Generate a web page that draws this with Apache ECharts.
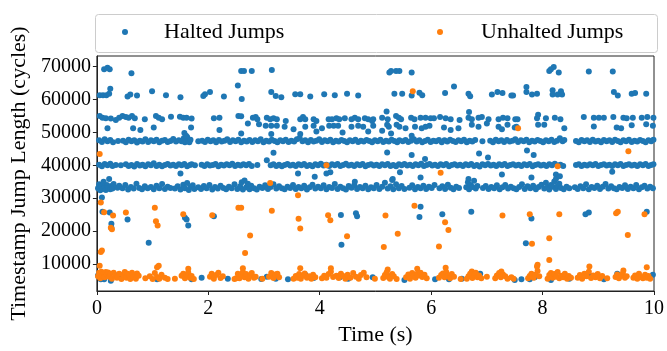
<!DOCTYPE html>
<html>
<head>
<meta charset="utf-8">
<script src="https://cdn.jsdelivr.net/npm/echarts@6/dist/echarts.min.js"></script>
<style>html,body{margin:0;padding:0;background:#fff}#c{width:667px;height:351px}</style>
</head>
<body>
<div id="c"></div>
<script>
// ---- data: [time (s), jump length (cycles)] ----
const xTicks = [0, 2, 4, 6, 8, 10];
const yTicks = [10000, 20000, 30000, 40000, 50000, 60000, 70000];

const haltedBand47 = [[0.04,47600],[0.09,47100],[0.14,47900],[0.19,47300],[0.24,47700],[0.29,47000],[0.38,47400],
[0.47,47500],[0.52,47000],[0.57,47800],[0.62,47300],[0.67,47600],[0.72,46900],[0.77,47500],[0.82,47200],[0.87,47900],[0.92,47100],[0.97,47600],[1.02,47300],[1.07,47800],[1.12,47000],[1.17,47500],[1.22,47700],[1.27,47100],[1.32,47400],[1.37,48000],[1.42,47200],[1.47,47600],[1.52,47300],[1.56,48200],[1.58,47000],[1.60,47700],[1.62,48600],[1.64,47400],[1.66,47000],[1.68,47800],[1.82,47300],
[1.89,47500],[1.94,47100],[1.99,47800],[2.04,47300],[2.09,47600],[2.14,47000],[2.19,47700],[2.24,47200],[2.29,47500],[2.34,47900],[2.39,47100],[2.44,47600],[2.49,47300],[2.54,47800],[2.59,47000],[2.64,47500],[2.69,47200],[2.74,47700],[2.79,47100],[2.84,47600],[2.89,47300],[2.94,47900],[2.99,47000],[3.04,47500],[3.09,47200],[3.14,47800],[3.19,47400],[3.24,47000],[3.29,47600],[3.34,47300],[3.39,47800],[3.44,47100],[3.49,47500],[3.54,47200],[3.59,47900],[3.64,48300],[3.69,47300],[3.74,47600],[3.79,47000],[3.84,47700],[3.89,47200],[3.94,47500],[3.99,47900],[4.04,47100],[4.09,47600],[4.14,47300],[4.19,47800],[4.24,47000],[4.29,47500],[4.34,47200],[4.39,47700],[4.44,47400],[4.49,47000],[4.54,47600],[4.59,47300],[4.64,47800],[4.69,47100],[4.74,47500],[4.79,47200],[4.84,47700],[4.89,47400],[4.94,47000],[4.99,47600],[5.04,47300],[5.09,47800],[5.14,47100],[5.19,47500],[5.24,47200],[5.29,47800],[5.34,47400],[5.39,47000],[5.43,47600],
[5.49,47300],[5.54,47700],[5.59,47100],[5.64,47500],[5.69,47900],[5.74,47200],[5.79,47600],[5.84,47000],[5.89,47400],[5.94,47800],[5.99,47100],[6.04,47500],[6.09,47300],[6.14,47700],[6.19,47000],[6.24,47600],[6.29,47200],[6.34,47800],[6.39,47400],[6.44,47100],[6.49,47600],[6.54,47300],[6.59,47800],[6.64,47000],[6.69,47500],[6.74,47200],[6.79,47700],[6.92,47300],
[7.06,47500],[7.11,47000],[7.16,47800],[7.21,47300],[7.26,47600],[7.31,47100],[7.36,47700],[7.41,47200],[7.46,47500],[7.51,47900],[7.56,47100],[7.61,47600],[7.66,47300],[7.71,47800],[7.76,47000],[7.81,47500],[7.86,47200],[7.91,47700],[7.96,47400],[8.01,47000],[8.06,47600],[8.11,47300],[8.16,47800],[8.21,47100],[8.26,47500],[8.31,48200],[8.36,47300],[8.39,47700],
[8.60,47400],[8.65,47000],[8.70,47700],[8.75,47300],[8.80,47600],[8.85,47100],[8.90,47800],[8.95,47200],[9.00,47500],[9.05,47000],[9.10,47700],[9.15,47300],[9.20,47600],[9.25,47100],[9.30,47800],[9.35,47400],[9.40,47000],[9.45,47600],[9.50,47300],[9.55,47800],[9.60,47100],[9.65,47500],[9.70,47200],[9.75,47700],[9.80,47400],[9.85,47000],[9.90,47600],[9.95,47300],[9.99,47800]];

const haltedBand40 = [[0.04,40200],[0.09,39700],[0.14,40400],[0.19,40000],[0.24,40500],[0.28,39800],[0.34,40100],[0.43,40000],
[0.52,40300],[0.57,39800],[0.62,40100],[0.67,39600],[0.72,40400],[0.77,39900],[0.82,40200],[0.87,39700],[0.92,40300],[0.97,40000],[1.02,40600],[1.07,39800],[1.12,40200],[1.17,39700],[1.22,40100],[1.27,40400],[1.32,39900],[1.37,40200],[1.42,39800],[1.47,40300],[1.52,40000],[1.57,40400],[1.62,39700],[1.67,40100],[1.70,40300],[1.76,40000],
[1.88,40200],[1.93,39800],[1.98,40300],[2.03,39900],[2.08,40100],[2.13,40400],[2.18,39700],[2.23,40200],[2.28,39900],[2.33,40300],[2.38,40000],[2.43,40500],[2.48,39800],[2.53,40200],[2.58,39900],[2.63,40300],[2.68,40000],[2.73,40400],[2.78,39800],[2.88,40100],
[3.12,40000],[3.17,40300],[3.22,39800],[3.27,40200],[3.32,39700],[3.37,40100],[3.42,40400],[3.47,39900],[3.52,40200],[3.57,39800],[3.62,40300],[3.67,40000],[3.72,40400],[3.77,39800],[3.82,40100],[3.87,39700],[3.92,40300],[3.97,40000],[4.02,40500],[4.07,39900],[4.12,40200],[4.17,39800],[4.22,40300],[4.27,40000],[4.32,40400],[4.37,39800],[4.42,40100],[4.47,40500],[4.52,39900],[4.57,40200],[4.62,39800],[4.67,40300],[4.72,40000],[4.77,40400],[4.82,39700],[4.87,40100],[4.92,40300],[4.97,39900],[5.02,40200],[5.07,39800],[5.12,40300],[5.17,40000],[5.22,40400],[5.27,39800],[5.32,40100],[5.37,39700],[5.42,40300],[5.47,40000],[5.52,40400],[5.57,39900],[5.62,40200],[5.67,39800],[5.72,40300],[5.77,40000],[5.82,40500],[5.87,39800],[5.92,40100],[5.97,40400],[6.02,39900],[6.07,40200],[6.12,39800],[6.17,40300],[6.22,40000],[6.27,40400],[6.32,39700],[6.37,40100],[6.42,40300],[6.47,39900],[6.52,40200],[6.57,39800],[6.62,40300],[6.67,40000],[6.72,40400],[6.77,39800],[6.82,40100],[6.87,39600],[6.92,40300],[6.97,40000],[7.02,40400],[7.07,39900],[7.12,40200],[7.17,39800],[7.22,40300],[7.27,40000],[7.32,40400],[7.37,39800],[7.42,40100],[7.47,40300],[7.52,39900],[7.57,40200],[7.62,39800],[7.67,40300],[7.72,40000],[7.77,40400],[7.82,39700],[7.87,40100],[7.92,40300],[7.97,39900],[8.02,40200],[8.07,39800],[8.12,40300],[8.17,40000],[8.22,40500],[8.27,39900],[8.32,40200],[8.37,39800],
[8.60,40100],[8.65,40300],[8.70,39800],[8.75,40200],[8.80,39900],[8.85,40300],[8.90,40000],[8.95,40400],[9.00,39800],[9.05,40100],[9.10,40300],[9.15,39900],[9.20,40200],[9.25,39800],[9.30,40300],[9.35,40000],[9.40,40400],[9.45,39800],[9.50,40100],[9.55,40300],[9.60,39900],[9.65,40200],[9.70,39800],[9.75,40300],[9.80,40000],[9.85,40400],[9.90,39800],[9.95,40100],[9.99,40300]];

const haltedBand33 = [[0.02,33000],[0.04,34200],[0.06,32400],[0.08,33600],[0.10,32800],[0.12,35000],[0.14,33300],[0.16,32500],[0.18,34000],[0.20,33100],[0.22,35800],[0.24,32700],[0.26,33700],[0.28,32900],[0.30,34300],[0.37,33200],[0.40,33800],
[0.46,33000],[0.51,34000],[0.56,32600],[0.61,33400],[0.66,32900],[0.71,34400],[0.76,33100],[0.81,32700],[0.86,33600],[0.91,33000],
[0.97,33400],[1.02,32700],[1.07,33800],[1.12,33000],[1.17,34300],[1.22,32800],[1.27,33500],[1.32,33100],
[1.40,32900],[1.45,33600],[1.50,32600],[1.55,34100],[1.58,33000],[1.62,34600],[1.65,32500],[1.68,33400],[1.72,33900],[1.75,32800],
[1.82,33300],[1.87,32800],[1.92,33700],[1.97,33000],[2.02,34000],[2.07,32600],[2.12,33400],[2.17,32900],[2.22,33800],[2.27,33100],[2.32,32700],[2.37,33500],[2.42,33000],[2.47,34200],[2.52,32800],[2.57,33600],[2.60,34800],[2.62,32600],[2.65,35400],[2.68,33300],[2.71,34400],[2.74,32700],[2.77,33800],[2.82,33000],[2.87,32600],[2.92,33500],[2.97,33100],[3.02,33900],[3.07,32800],[3.12,33400],[3.17,34200],[3.22,32900],[3.27,33600],[3.32,33000],[3.37,32700],[3.42,33500],[3.47,33100],[3.52,34000],[3.57,32800],[3.62,33400],[3.67,33000],[3.72,33800],[3.77,32600],[3.82,33300],[3.87,34100],[3.92,32900],[3.97,33500],[4.02,33000],[4.07,33900],[4.12,32700],[4.17,33400],[4.22,33100],[4.27,34300],[4.32,32800],[4.37,33500],[4.42,33000],[4.47,32600],[4.52,33700],[4.57,33200],[4.62,33900],[4.67,32800],[4.72,33400],[4.77,33000],[4.82,33800],[4.87,32700],[4.92,33300],[4.97,33000],[5.02,34000],[5.07,32800],[5.12,33500],[5.17,34700],[5.22,32900],[5.27,33600],[5.30,35500],[5.32,32700],[5.37,34200],[5.42,33000],[5.47,33700],[5.52,32800],
[5.61,33200],[5.66,33900],[5.71,32700],[5.76,33400],[5.81,33000],[5.86,33800],[5.91,32800],[5.96,33500],[6.01,33100],[6.06,34000],
[6.15,33000],[6.20,33600],[6.25,32800],[6.30,34100],[6.35,33200],[6.40,32700],[6.45,33500],[6.50,33100],
[6.63,33300],[6.66,34800],[6.68,32700],[6.71,34000],[6.74,33400],[6.77,35300],[6.80,32900],[6.83,33700],
[6.93,33100],[6.98,33700],[7.03,32800],[7.08,33400],[7.13,33000],[7.18,33900],[7.23,32700],[7.28,33300],[7.33,34000],[7.38,32900],[7.43,33500],[7.48,33000],[7.53,32700],[7.58,33400],[7.63,34200],[7.68,32800],[7.73,33600],[7.78,33000],[7.83,33800],[7.88,32700],[7.93,33400],[7.98,34100],[8.03,32900],[8.06,34700],[8.09,33300],[8.12,32600],[8.15,34000],[8.18,33500],[8.21,35100],[8.24,32800],[8.27,33700],[8.30,34400],[8.33,33100],[8.38,32700],[8.43,33500],[8.48,33000],
[8.58,33300],[8.63,32800],[8.68,33600],[8.73,33000],[8.78,34200],[8.83,32700],[8.88,33400],[8.93,33100],[8.98,33800],[9.03,32800],[9.08,33500],[9.13,34300],[9.18,32900],[9.23,33600],[9.28,33000],[9.33,32700],[9.38,33400],[9.43,33100],[9.48,33900],[9.53,32800],[9.58,33500],[9.63,33000],[9.68,34000],[9.73,32700],[9.78,33300],[9.83,33800],[9.88,32900],[9.93,33500],[9.98,33000]];

const haltedTop = [[0.13,69200],[0.19,69700],[0.23,69200],[0.62,68000],[2.59,68700],[2.64,68700],[2.78,68700],[3.14,69000],[5.25,68200],[5.28,68700],[5.37,68700],[5.43,68700],[5.65,68200],[8.12,68700],[8.15,69200],[8.20,69900],[8.29,68200],[8.83,68500],[9.26,68500]];

const halted61 = [[0.05,61300],[0.11,61300],[0.17,61300],[0.22,61800],[0.24,63300],[0.55,60900],[0.60,61500],[0.72,61200],[0.99,62500],[1.24,61300],[1.50,60700],[1.91,61100],[1.94,61600],[2.03,62300],[2.28,60900],[2.53,64300],[2.60,60200],[3.13,62300],[3.21,61100],[3.31,60700],[3.56,61600],[3.65,61600],[3.83,60900],[4.08,61600],[4.27,61300],[4.49,61800],[4.69,61200],[5.34,61800],[5.48,61800],[5.65,61200],[5.79,62100],[5.84,61300],[6.25,62000],[6.41,64000],[6.67,61800],[6.70,61000],[7.09,61500],[7.19,62300],[7.28,62000],[7.44,61200],[7.47,61200],[7.71,63800],[7.71,62300],[7.81,61500],[7.90,61800],[8.18,62800],[8.18,61500],[8.27,61500],[8.33,62500],[8.35,61500],[9.28,62300],[9.35,61200],[9.60,61800],[9.66,62000],[9.86,61800]];

const halted54 = [[0.05,55000],[0.10,54500],[0.16,54300],[0.25,54200],[0.34,53800],[0.40,54500],[0.46,55000],[0.52,54700],[0.57,54500],[0.63,55000],[0.68,54300],[0.86,54000],[1.06,55000],[1.11,54500],[1.17,54000],[1.33,54800],[1.49,54800],[1.55,54500],[1.61,54500],[1.70,54200],[2.10,54300],[2.20,54500],[2.54,55000],
[2.59,54950],[2.71,52700],[2.80,54500],[2.85,54700],[2.88,54000],[2.91,52500],[3.05,54500],[3.11,54000],[3.17,54300],[3.23,54000],[3.39,53500],[3.65,54000],[3.70,54700],[3.74,54000],[3.89,54000],[3.94,53500],[4.16,54000],[4.22,54000],[4.30,54300],[4.35,54000],[4.45,54300],[4.57,54000],[4.63,54500],[4.69,54000],[4.81,54300],[4.87,54000],[4.94,53500],
[4.96,54000],[5.12,54500],[5.22,54000],[5.37,55000],[5.42,54500],[5.46,54000],[5.64,54500],[5.70,54000],[5.81,54500],[5.90,54500],[5.99,54300],[6.05,54300],[6.16,54700],[6.26,54300],[6.35,54000],[6.51,53800],[6.67,54500],[6.73,54000],[6.85,54500],[6.91,54700],[7.03,54000],[7.21,54000],[7.29,54500],[7.37,54300],[7.51,54000],[5.20,56400],[6.68,56200],
[7.55,54000],[7.92,55400],[7.90,54300],[8.06,54300],[8.22,54500],[8.32,54000],[8.74,54700],[8.92,54500],[9.01,54500],[9.10,54500],[9.27,54700],[9.45,54500],[9.51,54300],[9.62,54500],[9.78,54500],[9.88,54700],[9.99,54500]];

const halted51 = [[0.19,51300],[0.65,51300],[0.78,50700],[1.02,51500],[1.69,51500],[2.20,50700],[1.57,49800],[1.60,49000],
[3.03,52000],[3.13,52000],[3.23,52000],[3.37,51700],[3.53,51000],[3.74,51700],[3.89,52000],[3.94,50300],[4.04,51300],[4.17,52000],[4.25,52000],[4.33,52000],[4.41,50000],[4.57,51700],[4.69,52000],[4.78,51700],[4.87,50300],[4.96,52000],
[5.12,50500],[5.21,52300],[5.24,51700],[5.38,52300],[5.43,51700],[5.54,51300],[5.71,51700],[5.83,51300],[5.90,51700],[5.97,52000],[6.23,51500],[6.35,50700],[6.49,51300],[6.73,52300],[6.85,51700],[7.00,52700],[7.21,51700],[7.27,51000],[7.37,52300],[7.50,51500],
[7.53,51700],[7.92,52300],[8.03,52300],[8.39,51300],[8.92,51800],[9.33,51500],[9.41,51300],[9.60,52200],[9.86,52500],[9.98,52000]];

const haltedMid = [[1.50,37500],[3.17,43800],[3.05,41500],[3.61,37500],[3.91,36500],[4.12,37500],[4.19,37900],[4.63,35000],[5.21,43900],[5.65,43100],[5.89,41900],[6.86,43600],[7.02,42400],[5.44,37900],[5.81,36300],[6.67,35800],[7.27,37200],[5.31,35800],[7.80,36300],[8.24,37200],[8.24,35800],[8.31,36700],[9.25,38000],[2.59,49700],[3.13,49500],[3.65,49500],[5.28,49700],[5.65,49000],[7.72,44500],[7.84,43100]];

const haltedLow = [[0.09,30200],[0.10,25900],[0.23,25600],[0.26,22200],[0.26,21000],[0.55,23500],[1.58,24000],[1.61,23500],[1.64,21700],[2.10,24500],[0.93,16400],[4.38,24900],[4.65,25400],[4.67,24500],[4.39,15800],[5.81,27400],[5.79,24300],[6.20,25100],[6.72,25900],[7.80,23800],[7.70,16300],[8.77,25100],[8.83,25600],[9.87,25900]];

const haltedBottom = [[0.02,6500],[0.07,5300],[0.13,5300],[0.25,4900],[0.34,6500],[0.40,6800],[0.69,6300],[1.08,5300],[1.70,5300],[1.88,5800],[2.35,5500],[2.95,5400],[3.05,6100],[3.18,5900],[3.21,5500],[3.43,5300],[3.74,6700],[3.89,5700],[4.36,5900],[4.51,5500],[4.95,5900],[5.26,6200],[5.52,5100],[6.07,5300],[6.32,5300],[6.55,5500],[6.88,7000],[7.50,5100],[7.62,5300],[7.77,5300],[7.86,5900],[8.15,5100],[8.48,5500],[8.86,6400],[9.10,5300],[9.34,7000],[9.98,6700]];

const unhaltedSparse = [[0.05,43400],[0.07,28700],[0.13,25700],[0.29,24700],[0.25,21000],[0.27,20500],[0.52,25600],[1.04,27100],[1.06,23000],[1.09,21700],[1.55,25100],[2.07,24800],[2.54,27100],[0.07,13600],[0.09,14100],[0.05,9400],[1.08,9000],[1.11,9400],[1.64,8500],
[4.12,40000],[3.11,34600],[3.61,30900],[2.59,27100],[3.14,26200],[4.15,24800],[4.19,23300],[3.62,23700],[3.65,20800],[2.75,18600],[4.49,18400],[2.66,13300],[2.62,8700],[3.65,8700],[4.20,8700],
[5.67,62500],[6.17,37700],[5.70,27700],[5.18,24700],[6.25,22700],[6.31,20300],[7.28,24700],[5.40,19200],[5.15,15100],[6.14,15300],[5.22,8300],[5.75,8500],[6.26,8800],[6.73,7700],[7.26,7700],
[7.56,51300],[8.27,39700],[9.54,44300],[7.77,25100],[8.30,25100],[9.32,25400],[9.35,25900],[9.83,25100],[7.81,16100],[8.12,17800],[9.53,18800],[8.12,11200],[7.91,9700],[7.90,9200],[8.84,9200],[9.45,8000],[9.87,9000]];

const unhaltedBottom = [[0.02,6200],[0.04,7300],[0.06,5600],[0.08,7600],[0.10,6500],[0.12,7200],[0.14,5900],[0.16,7500],[0.18,6800],[0.20,7400],[0.22,6100],[0.24,7000],[0.27,5500],[0.30,7300],[0.33,6300],[0.36,5800],[0.40,7000],[0.44,5400],[0.48,6600],[0.50,7500],[0.53,5800],[0.55,7000],[0.58,6200],[0.60,5400],[0.63,7300],[0.66,6000],[0.70,5500],[0.72,7100],[0.75,6400],
[0.87,5600],[0.95,6200],[1.00,5400],[1.04,7200],[1.08,6000],[1.12,5500],[1.16,6700],[1.22,5800],[1.27,5400],[1.40,5500],[1.52,6400],[1.55,7000],[1.58,5600],[1.61,6700],[1.64,7400],[1.67,5800],[1.70,6300],[1.74,5400],[2.03,6100],[2.06,7000],[2.10,5500],[2.14,6600],[2.18,7300],[2.22,5700],[2.26,6200],[2.50,5600],
[2.47,5400],[2.53,7000],[2.56,5600],[2.59,6600],[2.62,7500],[2.65,5900],[2.68,6900],[2.72,5500],[2.75,6400],[2.78,7200],[2.82,5800],[2.85,6100],[2.97,5500],[3.09,6100],[3.13,7200],[3.17,5700],[3.20,6800],[3.24,7000],[3.27,5900],[3.53,5500],[3.57,6300],[3.60,5800],[3.63,6900],[3.66,5500],[3.70,6400],[3.73,7100],[3.77,5800],[3.81,6200],[3.85,5500],[3.88,6700],[3.92,5900],[4.04,5600],[4.08,6400],[4.12,5800],[4.16,6900],[4.20,7600],[4.24,6000],[4.30,6400],[4.34,5700],[4.38,7000],[4.42,6300],[4.46,5500],[4.50,6700],[4.55,5800],[4.60,7200],[4.65,6100],[4.70,5500],[4.74,6600],[4.79,7300],[4.84,5900],[4.99,5500],
[5.14,5700],[5.17,6600],[5.20,7400],[5.23,6000],[5.26,5500],[5.30,6900],[5.33,6200],[5.38,5400],[5.55,5900],[5.59,6800],[5.62,5500],[5.66,7200],[5.69,6300],[5.72,5800],[5.75,7000],[5.78,6500],[5.81,7300],[5.84,6000],[5.88,6700],[5.92,5600],[6.14,5800],[6.18,6600],[6.21,7100],[6.24,5900],[6.27,7500],[6.30,6300],[6.34,5600],[6.37,6900],[6.41,6100],[6.53,5400],[6.64,5500],[6.67,6200],[6.70,7000],[6.74,5700],[6.77,6600],[6.80,7300],[6.83,5900],[6.86,6500],[6.90,5600],[7.00,6100],[7.15,5600],[7.18,6500],[7.22,7200],[7.25,5900],[7.29,6800],[7.33,6200],[7.37,5500],
[7.44,5900],[7.48,5500],[7.74,5600],[7.77,6300],[7.80,7000],[7.84,5800],[7.87,6700],[7.91,7800],[7.94,6200],[8.09,5500],[8.12,6600],[8.15,7200],[8.18,5800],[8.21,6900],[8.24,6100],[8.27,7500],[8.30,5600],[8.33,6400],[8.37,5900],[8.40,7000],[8.44,5500],[8.47,6300],[8.51,5800],[8.63,5800],[8.67,6600],[8.71,5500],[8.75,7000],[8.79,6200],[8.83,7600],[8.87,5700],[8.91,6500],[8.95,5900],[8.99,6900],[9.03,5600],[9.07,6300],[9.16,5600],[9.31,6000],[9.34,6800],[9.37,5600],[9.41,6400],[9.44,7100],[9.48,5800],[9.51,6200],[9.63,5800],[9.66,6500],[9.70,5500],[9.73,7000],[9.77,6000],[9.80,5600],[9.84,6700],[9.87,5800],[9.90,6300],[9.93,5500]];

const haltedAll = [].concat(haltedBand47, haltedBand40, haltedBand33, haltedTop, halted61, halted54, halted51, haltedMid, haltedLow, haltedBottom);
const unhaltedAll = [].concat(unhaltedSparse, unhaltedBottom);

const FONT = 'Liberation Serif';
const chart = echarts.init(document.getElementById('c'), null, {renderer: 'canvas'});
chart.setOption({
  animation: false,
  backgroundColor: '#fff',
  textStyle: {fontFamily: FONT},
  grid: {left: 94, right: 11, top: 56, bottom: 53, show: true, borderColor: '#222', borderWidth: 1, backgroundColor: 'transparent'},
  graphic: [{
    type: 'rect', left: 95, top: 14, z: -1,
    shape: {width: 562, height: 38, r: 3},
    style: {fill: '#fff', stroke: '#cccccc', lineWidth: 1}
  }],
  legend: [
    {data: ['Halted Jumps'], left: 122, top: 21, padding: 0, icon: 'circle', itemWidth: 6, itemHeight: 6,
     textStyle: {fontFamily: FONT, fontSize: 22, color: '#000', padding: [0, 0, 0, 31]}},
    {data: ['Unhalted Jumps'], left: 437, top: 21, padding: 0, icon: 'circle', itemWidth: 6, itemHeight: 6,
     textStyle: {fontFamily: FONT, fontSize: 22, color: '#000', padding: [0, 0, 0, 33]}}
  ],
  xAxis: {
    type: 'value', min: 0, max: 10, interval: 2,
    name: 'Time (s)', nameLocation: 'middle', nameGap: 33,
    nameTextStyle: {fontFamily: FONT, fontSize: 22, color: '#000'},
    axisLine: {show: true, lineStyle: {color: '#222', width: 1}},
    axisTick: {show: true, inside: false, length: 4, lineStyle: {color: '#222'}},
    axisLabel: {fontFamily: FONT, fontSize: 20, color: '#000', margin: 8, formatter: v => String(v)},
    splitLine: {show: false}
  },
  yAxis: {
    type: 'value', min: 1750, max: 73250,
    name: 'Timestamp Jump Length (cycles)', nameLocation: 'middle', nameGap: 62,
    nameTextStyle: {fontFamily: FONT, fontSize: 22, color: '#000'},
    axisLine: {show: true, lineStyle: {color: '#222', width: 1}},
    axisTick: {show: true, inside: false, length: 4, lineStyle: {color: '#222'}, customValues: yTicks},
    axisLabel: {fontFamily: FONT, fontSize: 20, color: '#000', margin: 6, customValues: yTicks, formatter: v => String(v)},
    splitLine: {show: false}
  },
  series: [
    {name: 'Halted Jumps', type: 'scatter', data: haltedAll, symbol: 'circle', symbolSize: 6,
     itemStyle: {color: '#1f77b4', opacity: 1}},
    {name: 'Unhalted Jumps', type: 'scatter', data: unhaltedAll, symbol: 'circle', symbolSize: 6,
     itemStyle: {color: '#ff7f0e', opacity: 1}}
  ]
});
</script>
</body>
</html>
